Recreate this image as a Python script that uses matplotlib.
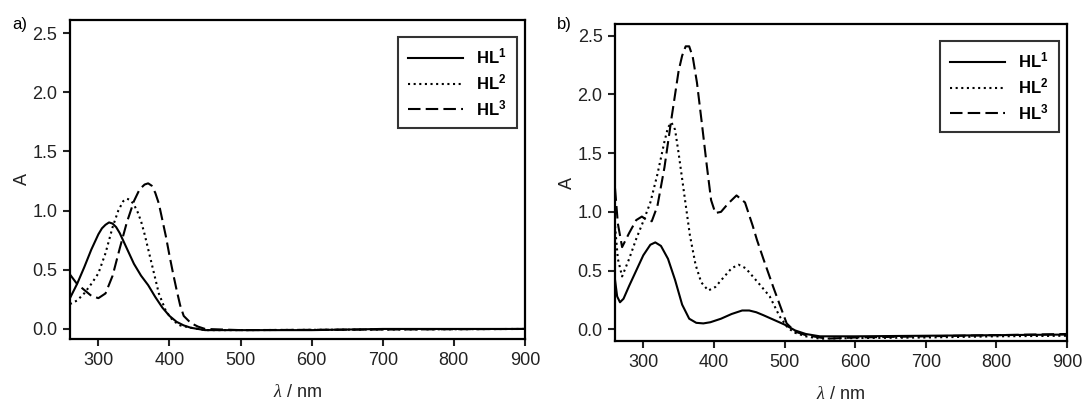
import matplotlib
matplotlib.use("Agg")
import matplotlib.pyplot as plt

plt.rcParams['font.family'] = ['Liberation Sans', 'DejaVu Sans']
plt.rcParams['mathtext.fontset'] = 'custom'
plt.rcParams['mathtext.rm'] = 'Liberation Sans'
plt.rcParams['mathtext.bf'] = 'Liberation Sans:bold'
plt.rcParams['mathtext.it'] = 'Liberation Serif:italic'

# panel a) : free ligands
a_x1 = [260, 270, 280, 290, 300, 305, 310, 315, 320, 325, 330, 340, 350, 360, 370, 380,
        390, 400, 410, 420, 430, 440, 450, 500, 600, 700, 800, 900]
a_y1 = [0.26, 0.38, 0.52, 0.67, 0.80, 0.85, 0.88, 0.90, 0.89, 0.86, 0.81, 0.68, 0.55, 0.45,
        0.37, 0.27, 0.18, 0.11, 0.06, 0.03, 0.01, 0.0, -0.01, -0.01, -0.01, 0.0, 0.0, 0.0]
a_x2 = [260, 270, 280, 290, 300, 310, 320, 328, 335, 340, 345, 350, 355, 360, 365, 375,
        385, 395, 405, 415, 430, 450, 500, 900]
a_y2 = [0.21, 0.24, 0.30, 0.38, 0.47, 0.64, 0.86, 1.00, 1.08, 1.10, 1.09, 1.05, 0.99, 0.91,
        0.80, 0.55, 0.30, 0.15, 0.07, 0.03, 0.01, -0.01, -0.01, 0.0]
a_x3 = [260, 270, 280, 290, 300, 310, 320, 330, 340, 350, 358, 365, 370, 375, 380, 385,
        390, 395, 400, 405, 410, 415, 420, 430, 440, 450, 500, 900]
a_y3 = [0.46, 0.38, 0.33, 0.28, 0.26, 0.30, 0.45, 0.68, 0.90, 1.08, 1.18, 1.22, 1.23, 1.21,
        1.15, 1.06, 0.92, 0.78, 0.62, 0.47, 0.33, 0.20, 0.11, 0.05, 0.02, 0.0, -0.01, 0.0]

# panel b)
b_x1 = [260, 263, 267, 272, 280, 290, 300, 310, 317, 325, 335, 345, 355, 365, 375, 385,
        395, 410, 425, 440, 450, 460, 470, 485, 500, 515, 530, 550, 600, 700, 800, 900]
b_y1 = [0.42, 0.28, 0.23, 0.26, 0.37, 0.50, 0.63, 0.72, 0.74, 0.71, 0.60, 0.42, 0.21, 0.09,
        0.055, 0.05, 0.06, 0.09, 0.13, 0.16, 0.16, 0.145, 0.12, 0.08, 0.04, -0.01, -0.04,
        -0.06, -0.06, -0.055, -0.05, -0.045]
b_x2 = [260, 264, 270, 280, 290, 300, 310, 320, 330, 335, 340, 345, 350, 358, 366, 374,
        382, 392, 402, 412, 425, 435, 445, 455, 465, 479, 493, 505, 515, 530, 550, 600,
        700, 800, 900]
b_y2 = [0.88, 0.60, 0.45, 0.60, 0.77, 0.92, 1.08, 1.32, 1.60, 1.72, 1.76, 1.70, 1.50, 1.15,
        0.80, 0.55, 0.40, 0.33, 0.36, 0.43, 0.52, 0.55, 0.52, 0.45, 0.38, 0.28, 0.11, 0.01,
        -0.03, -0.06, -0.08, -0.075, -0.07, -0.06, -0.055]
b_x3 = [260, 264, 270, 280, 290, 298, 305, 312, 320, 330, 340, 350, 355, 360, 365, 370,
        376, 383, 390, 396, 402, 410, 420, 432, 444, 455, 461, 470, 484, 495, 503, 515,
        530, 560, 600, 700, 800, 900]
b_y3 = [1.20, 0.90, 0.70, 0.82, 0.93, 0.96, 0.93, 0.92, 1.05, 1.38, 1.80, 2.20, 2.33, 2.41,
        2.41, 2.32, 2.10, 1.75, 1.39, 1.10, 0.99, 1.00, 1.07, 1.14, 1.08, 0.88, 0.76, 0.60,
        0.36, 0.18, 0.05, -0.02, -0.05, -0.08, -0.07, -0.06, -0.05, -0.04]

labels = [r'$\mathbf{HL^1}$', r'$\mathbf{HL^2}$', r'$\mathbf{HL^3}$']
styles = ['-', (0, (1, 1.7)), (0, (6, 2.5))]

fig = plt.figure(figsize=(10.83, 4.03), dpi=100)
ax1 = fig.add_axes([0.0646, 0.1588, 0.4201, 0.7916])
ax2 = fig.add_axes([0.5679, 0.1538, 0.4174, 0.7866])

panels = [
    (ax1, [(a_x1, a_y1), (a_x2, a_y2), (a_x3, a_y3)], (-0.085, 2.61), 'a)', 0.011),
    (ax2, [(b_x1, b_y1), (b_x2, b_y2), (b_x3, b_y3)], (-0.10, 2.60), 'b)', 0.514),
]

for ax, series, ylim, tag, tx in panels:
    for (x, y), ls, lab in zip(series, styles, labels):
        ax.plot(x, y, color='black', linestyle=ls, linewidth=1.5, label=lab)
    ax.set_xlim(260, 900)
    ax.set_ylim(*ylim)
    ax.set_xticks([300, 400, 500, 600, 700, 800, 900])
    ax.set_yticks([0.0, 0.5, 1.0, 1.5, 2.0, 2.5])
    ax.set_yticklabels(['0.0', '0.5', '1.0', '1.5', '2.0', '2.5'])
    ax.tick_params(direction='out', length=5, width=1.5, labelsize=13, pad=4,
                   top=False, right=False, colors='#222222')
    for sp in ax.spines.values():
        sp.set_linewidth(1.6)
    ax.set_xlabel(r'$\lambda$ / nm', fontsize=13, labelpad=11, color='#222222')
    ax.set_ylabel('A', fontsize=13, labelpad=1, color='#222222')
    leg = ax.legend(loc='upper right', bbox_to_anchor=(0.982, 0.947), borderaxespad=0,
                    fontsize=12, frameon=True, fancybox=False, handlelength=3.3,
                    handletextpad=0.8, labelspacing=0.35, borderpad=0.6)
    leg.get_frame().set_edgecolor('black')
    leg.get_frame().set_linewidth(1.5)
    fig.text(tx, 0.938, tag, fontsize=12, va='center', ha='left')

fig.savefig('out.png', dpi=100)
